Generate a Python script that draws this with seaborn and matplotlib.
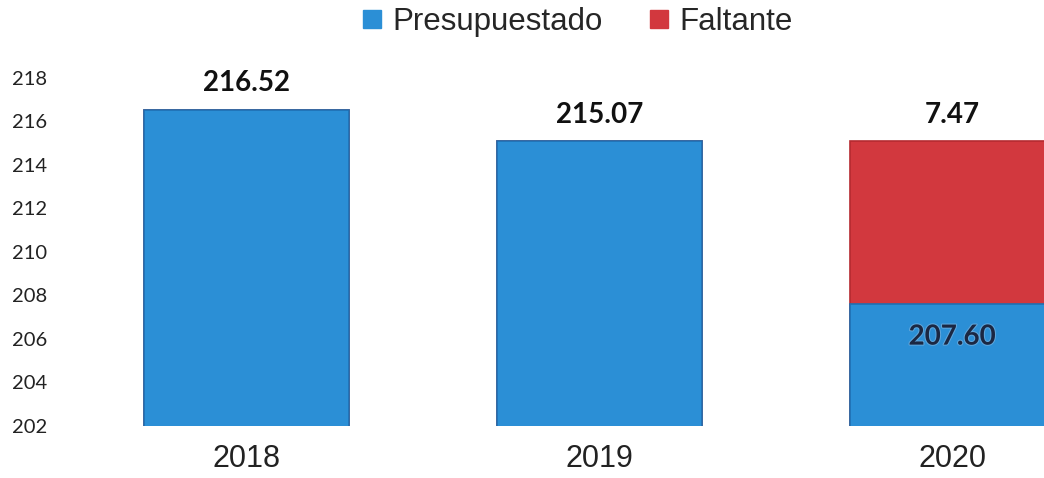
import pandas as pd
import seaborn as sns
import matplotlib.pyplot as plt
from matplotlib.lines import Line2D
import matplotlib.patheffects as pe

years = ["2018", "2019", "2020"]
presupuestado = [216.52, 215.07, 207.60]
faltante = [0.0, 0.0, 7.47]
y_ticks = [202, 204, 206, 208, 210, 212, 214, 216, 218]

BLUE = "#2b8fd6"
RED = "#d2383e"

df = pd.DataFrame({"year": years, "presupuestado": presupuestado, "faltante": faltante})
df["total"] = df["presupuestado"] + df["faltante"]

sns.set_theme(style="white")
plt.rcParams["font.family"] = ["Lato", "DejaVu Sans"]

fig = plt.figure(figsize=(10.44, 4.78), dpi=100)
ax = fig.add_axes([0.067, 0.109, 0.933, 0.747])

# stacked bars: full stack in red, budgeted part in blue on top of it
sns.barplot(data=df, x="year", y="total", color=RED, saturation=1, width=0.58,
            edgecolor="#b52a30", linewidth=1.2, ax=ax)
sns.barplot(data=df, x="year", y="presupuestado", color=BLUE, saturation=1, width=0.58,
            edgecolor="#1f6fb2", linewidth=1.2, ax=ax)

ax.set_ylim(202, 218.4)
ax.set_xlim(-0.5, 2.26)
ax.set_yticks(y_ticks)
ax.set_yticklabels([str(t) for t in y_ticks], fontsize=14.5, color="#222222")
ax.tick_params(axis="y", length=0, pad=0)
for lbl in ax.get_yticklabels():
    lbl.set_horizontalalignment("left")
    lbl.set_x(-0.06)
ax.tick_params(axis="x", length=0, pad=13, labelsize=22, labelcolor="#222222")
for lbl in ax.get_xticklabels():
    lbl.set_family(["Liberation Sans", "DejaVu Sans"])
ax.set_xlabel("")
ax.set_ylabel("")
for s in ax.spines.values():
    s.set_visible(False)

# value labels above stacks
for i, row in df.iterrows():
    if row["faltante"] > 0:
        top_label = f"{row['faltante']:.2f}"
    else:
        top_label = f"{row['presupuestado']:.2f}"
    ax.annotate(top_label, (i, row["total"]), xytext=(0, 19), textcoords="offset points",
                ha="center", va="center", fontsize=20, fontweight="bold", color="#111111")

# label inside the blue part of the 2020 bar
ax.text(2, presupuestado[2] - 1.5, f"{presupuestado[2]:.2f}", ha="center", va="center",
        fontsize=20, fontweight="bold", color="#1b2742",
        path_effects=[pe.withStroke(linewidth=1.5, foreground="#5fa6dc")])

handles = [
    Line2D([], [], marker="s", linestyle="", markersize=13, color=BLUE),
    Line2D([], [], marker="s", linestyle="", markersize=13, color=RED),
]
fig.legend(handles, ["Presupuestado", "Faltante"], loc="center", bbox_to_anchor=(0.546, 0.955),
           ncol=2, frameon=False, handletextpad=-0.15, columnspacing=1.0, handlelength=1.6,
           prop={"family": ["Liberation Sans", "DejaVu Sans"], "size": 22.5})

fig.savefig("out.png", dpi=100)
